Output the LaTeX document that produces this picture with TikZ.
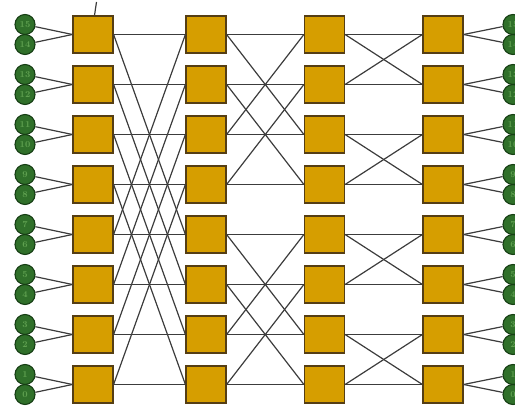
\documentclass[tikz,border=0pt]{standalone}
\usetikzlibrary{positioning}
\definecolor{boxgold}{RGB}{214,158,0}
\definecolor{boxedge}{RGB}{85,62,20}
\definecolor{portgreen}{RGB}{48,112,42}
\definecolor{portedge}{RGB}{22,62,20}
\definecolor{porttext}{RGB}{95,160,80}
\definecolor{wiregray}{RGB}{60,60,60}
\begin{document}
\begin{tikzpicture}[x=1pt, y=-1pt,
  sw/.style={draw=boxedge, fill=boxgold, line width=1.2pt, minimum width=40pt, minimum height=37pt, inner sep=0pt},
  port/.style={circle, draw=portedge, fill=portgreen, line width=1.1pt, minimum size=20pt, inner sep=0pt, font=\small\bfseries, text=porttext},
  wire/.style={draw=wiregray, line width=1.2pt}]
  \useasboundingbox (0,0) rectangle (515,411);
  \clip (0,0) rectangle (515,411);

  % Switches, four stages of eight
  \foreach \c/\x in {1/93, 2/206, 3/324.5, 4/443}
    \foreach \r in {0,...,7}
      \node[sw] (s\c\r) at (\x, 34.5+50*\r) {};

  % Ports on both sides (right ones run off the edge)
  \foreach \r in {0,...,7} {
    \pgfmathtruncatemacro\hi{15-2*\r}
    \pgfmathtruncatemacro\lo{14-2*\r}
    \node[port] (l\hi) at (25, 24.5+50*\r) {\hi};
    \node[port] (l\lo) at (25, 44.5+50*\r) {\lo};
    \node[port] (r\hi) at (513, 24.5+50*\r) {\hi};
    \node[port] (r\lo) at (513, 44.5+50*\r) {\lo};
    \draw[wire] (l\hi) -- (s1\r.west);
    \draw[wire] (l\lo) -- (s1\r.west);
    \draw[wire] (s4\r.east) -- (r\hi);
    \draw[wire] (s4\r.east) -- (r\lo);
  }

  % Straight links
  \foreach \r in {0,...,7} {
    \draw[wire] (s1\r.east) -- (s2\r.west);
    \draw[wire] (s2\r.east) -- (s3\r.west);
    \draw[wire] (s3\r.east) -- (s4\r.west);
  }

  % Crossed links: distance 4, 2, 1
  \foreach \a/\b in {0/4, 1/5, 2/6, 3/7} {
    \draw[wire] (s1\a.east) -- (s2\b.west);
    \draw[wire] (s1\b.east) -- (s2\a.west);
  }
  \foreach \a/\b in {0/2, 1/3, 4/6, 5/7} {
    \draw[wire] (s2\a.east) -- (s3\b.west);
    \draw[wire] (s2\b.east) -- (s3\a.west);
  }
  \foreach \a/\b in {0/1, 2/3, 4/5, 6/7} {
    \draw[wire] (s3\a.east) -- (s4\b.west);
    \draw[wire] (s3\b.east) -- (s4\a.west);
  }

  % Small mark above the first switch
  \coordinate (tick) at (96.5,2);
  \draw[wire] (tick) -- ([xshift=1.5pt]s10.north);
\end{tikzpicture}
\end{document}
